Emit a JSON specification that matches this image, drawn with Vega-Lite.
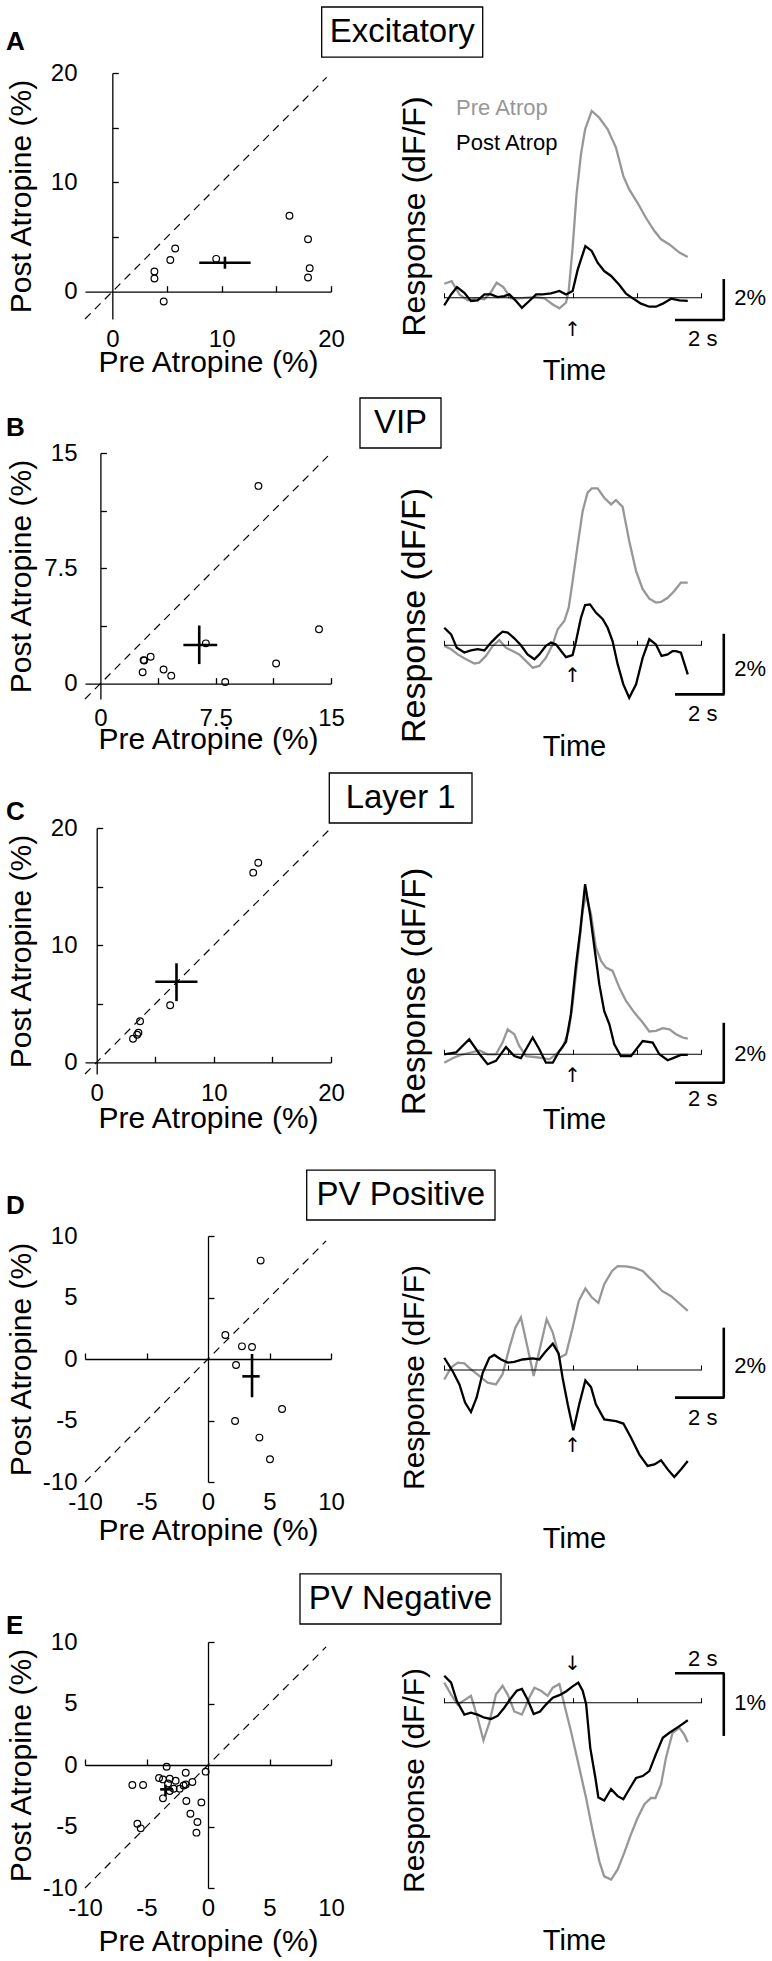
{
"$schema":"https://vega.github.io/schema/vega-lite/v6.json",
"background":"white",
"padding":{"left":5,"top":6,"right":5,"bottom":5},
"columns":2,
"align":"each",
"bounds":"flush",
"spacing":{"row":5,"column":113},
"datasets":{
"scA":[{"pre":16.2,"post":6.95},{"pre":17.9,"post":4.8},{"pre":18.05,"post":2.15},{"pre":17.9,"post":1.3},{"pre":5.75,"post":3.95},{"pre":5.3,"post":2.9},{"pre":9.5,"post":3.0},{"pre":3.85,"post":1.85},{"pre":3.85,"post":1.2},{"pre":4.7,"post":-0.9}],
"mA":[{"pre":10.3,"post":2.65,"preLo":7.95,"preHi":12.65,"postLo":2.1,"postHi":3.2}],
"scB":[{"pre":10.28,"post":12.86},{"pre":14.22,"post":3.54},{"pre":11.43,"post":1.31},{"pre":8.12,"post":0.11},{"pre":6.86,"post":2.62},{"pre":3.27,"post":1.75},{"pre":2.81,"post":1.53},{"pre":2.85,"post":1.5},{"pre":2.75,"post":0.74},{"pre":4.11,"post":0.92},{"pre":4.61,"post":0.52}],
"mB":[{"pre":6.43,"post":2.51,"preLo":5.4,"preHi":7.6,"postLo":1.27,"postHi":3.78}],
"scC":[{"pre":13.36,"post":16.19},{"pre":13.79,"post":17.03},{"pre":6.27,"post":4.87},{"pre":3.7,"post":3.5},{"pre":3.56,"post":2.52},{"pre":3.45,"post":2.35},{"pre":3.1,"post":2.01}],
"mC":[{"pre":6.81,"post":6.88,"preLo":5.0,"preHi":8.6,"postLo":5.22,"postHi":8.45}],
"scD":[{"pre":4.28,"post":8.0},{"pre":1.41,"post":1.95},{"pre":2.76,"post":1.03},{"pre":3.58,"post":0.98},{"pre":2.28,"post":-0.49},{"pre":6.02,"post":-4.07},{"pre":2.2,"post":-5.04},{"pre":4.18,"post":-6.39},{"pre":5.04,"post":-8.15}],
"mD":[{"pre":3.58,"post":-1.41,"preLo":2.79,"preHi":4.2,"postLo":-3.11,"postHi":0.41}],
"scE":[{"pre":-3.36,"post":-0.14},{"pre":-1.81,"post":-0.63},{"pre":-0.19,"post":-0.54},{"pre":-6.15,"post":-1.63},{"pre":-5.28,"post":-1.63},{"pre":-3.98,"post":-1.06},{"pre":-3.66,"post":-1.17},{"pre":-3.11,"post":-1.12},{"pre":-2.63,"post":-1.28},{"pre":-3.25,"post":-1.5},{"pre":-2.79,"post":-1.93},{"pre":-1.98,"post":-1.66},{"pre":-1.81,"post":-1.58},{"pre":-1.27,"post":-1.38},{"pre":-2.3,"post":-1.93},{"pre":-3.11,"post":-2.11},{"pre":-3.66,"post":-2.71},{"pre":-1.76,"post":-2.93},{"pre":-0.54,"post":-3.04},{"pre":-1.43,"post":-3.96},{"pre":-0.86,"post":-4.63},{"pre":-0.94,"post":-5.5},{"pre":-5.74,"post":-4.77},{"pre":-5.47,"post":-5.15}],
"mE":[{"pre":-3.46,"post":-1.98,"preLo":-3.89,"preHi":-2.85,"postLo":-2.55,"postHi":-1.6}],
"tApre":[{"t":0.01,"r":0.68},{"t":0.31,"r":0.81},{"t":0.63,"r":0.16},{"t":0.97,"r":-0.13},{"t":1.31,"r":-0.03},{"t":1.65,"r":-0.08},{"t":1.92,"r":0.28},{"t":2.15,"r":0.73},{"t":2.42,"r":0.52},{"t":2.73,"r":-0.03},{"t":3.07,"r":-0.03},{"t":3.41,"r":0.0},{"t":3.76,"r":0.03},{"t":4.1,"r":-0.03},{"t":4.44,"r":-0.33},{"t":4.71,"r":-0.52},{"t":4.98,"r":-0.24},{"t":5.09,"r":0.33},{"t":5.25,"r":2.44},{"t":5.41,"r":5.04},{"t":5.59,"r":6.99},{"t":5.76,"r":8.21},{"t":6.03,"r":9.11},{"t":6.34,"r":8.78},{"t":6.68,"r":8.21},{"t":7.02,"r":7.32},{"t":7.32,"r":5.93},{"t":7.56,"r":5.28},{"t":7.9,"r":4.63},{"t":8.24,"r":3.9},{"t":8.59,"r":3.25},{"t":8.86,"r":2.85},{"t":9.2,"r":2.6},{"t":9.61,"r":2.2},{"t":9.95,"r":1.98}],
"tApost":[{"t":0.01,"r":-0.37},{"t":0.29,"r":0.16},{"t":0.53,"r":0.52},{"t":0.83,"r":0.24},{"t":1.1,"r":-0.16},{"t":1.37,"r":-0.13},{"t":1.65,"r":0.16},{"t":1.92,"r":0.16},{"t":2.19,"r":0.03},{"t":2.46,"r":0.08},{"t":2.67,"r":0.16},{"t":2.94,"r":-0.16},{"t":3.18,"r":-0.49},{"t":3.48,"r":-0.16},{"t":3.76,"r":0.16},{"t":4.03,"r":0.16},{"t":4.37,"r":0.21},{"t":4.71,"r":0.33},{"t":4.98,"r":0.16},{"t":5.25,"r":0.33},{"t":5.46,"r":1.38},{"t":5.77,"r":2.52},{"t":6.03,"r":2.28},{"t":6.27,"r":1.71},{"t":6.54,"r":1.3},{"t":6.82,"r":1.06},{"t":7.16,"r":0.62},{"t":7.43,"r":0.2},{"t":7.77,"r":-0.08},{"t":8.04,"r":-0.29},{"t":8.38,"r":-0.44},{"t":8.65,"r":-0.44},{"t":8.93,"r":-0.29},{"t":9.27,"r":-0.05},{"t":9.61,"r":-0.13},{"t":9.95,"r":-0.16}],
"tBpre":[{"t":0.01,"r":-0.02},{"t":0.29,"r":-0.13},{"t":0.56,"r":-0.3},{"t":0.9,"r":-0.46},{"t":1.24,"r":-0.6},{"t":1.44,"r":-0.57},{"t":1.71,"r":-0.35},{"t":1.99,"r":-0.02},{"t":2.26,"r":0.17},{"t":2.53,"r":-0.08},{"t":2.8,"r":-0.19},{"t":3.07,"r":-0.3},{"t":3.35,"r":-0.52},{"t":3.62,"r":-0.74},{"t":3.89,"r":-0.68},{"t":4.16,"r":-0.41},{"t":4.44,"r":0.03},{"t":4.64,"r":0.53},{"t":4.91,"r":0.8},{"t":5.09,"r":1.24},{"t":5.25,"r":2.12},{"t":5.46,"r":3.33},{"t":5.66,"r":4.43},{"t":5.86,"r":5.04},{"t":6.03,"r":5.18},{"t":6.27,"r":5.18},{"t":6.54,"r":4.87},{"t":6.82,"r":4.65},{"t":7.02,"r":4.79},{"t":7.29,"r":4.57},{"t":7.56,"r":3.44},{"t":7.84,"r":2.45},{"t":8.11,"r":1.85},{"t":8.38,"r":1.54},{"t":8.65,"r":1.41},{"t":8.86,"r":1.43},{"t":9.13,"r":1.57},{"t":9.4,"r":1.79},{"t":9.67,"r":2.07},{"t":9.95,"r":2.07}],
"tBpost":[{"t":0.01,"r":0.58},{"t":0.29,"r":0.36},{"t":0.52,"r":-0.08},{"t":0.83,"r":-0.24},{"t":1.1,"r":-0.17},{"t":1.37,"r":-0.13},{"t":1.65,"r":-0.17},{"t":1.92,"r":0.09},{"t":2.19,"r":0.31},{"t":2.39,"r":0.45},{"t":2.6,"r":0.42},{"t":2.87,"r":0.23},{"t":3.14,"r":0.0},{"t":3.41,"r":-0.3},{"t":3.69,"r":-0.46},{"t":3.89,"r":-0.3},{"t":4.16,"r":-0.02},{"t":4.37,"r":0.09},{"t":4.57,"r":0.03},{"t":4.78,"r":-0.19},{"t":4.98,"r":-0.39},{"t":5.25,"r":-0.32},{"t":5.39,"r":0.14},{"t":5.59,"r":0.91},{"t":5.76,"r":1.33},{"t":5.96,"r":1.35},{"t":6.2,"r":1.08},{"t":6.48,"r":0.86},{"t":6.68,"r":0.58},{"t":6.88,"r":0.14},{"t":7.09,"r":-0.63},{"t":7.32,"r":-1.29},{"t":7.56,"r":-1.73},{"t":7.84,"r":-1.29},{"t":8.11,"r":-0.41},{"t":8.38,"r":0.2},{"t":8.65,"r":0.03},{"t":8.88,"r":-0.35},{"t":9.13,"r":-0.3},{"t":9.33,"r":-0.19},{"t":9.47,"r":-0.19},{"t":9.67,"r":-0.24},{"t":9.95,"r":-0.96}],
"tCpre":[{"t":0.01,"r":-0.28},{"t":0.35,"r":-0.13},{"t":0.69,"r":-0.02},{"t":1.1,"r":0.06},{"t":1.44,"r":0.13},{"t":1.78,"r":0},{"t":2.12,"r":0},{"t":2.39,"r":0.39},{"t":2.6,"r":0.83},{"t":2.87,"r":0.67},{"t":3.07,"r":0.28},{"t":3.35,"r":-0.06},{"t":3.69,"r":-0.09},{"t":4.03,"r":-0.13},{"t":4.3,"r":-0.17},{"t":4.57,"r":0},{"t":4.84,"r":0.22},{"t":5.09,"r":0.78},{"t":5.25,"r":1.67},{"t":5.46,"r":3.22},{"t":5.66,"r":4.78},{"t":5.8,"r":5.33},{"t":6.0,"r":4.67},{"t":6.2,"r":3.56},{"t":6.41,"r":3.11},{"t":6.61,"r":2.89},{"t":6.88,"r":2.78},{"t":7.16,"r":2.22},{"t":7.43,"r":1.78},{"t":7.77,"r":1.39},{"t":8.11,"r":1.06},{"t":8.38,"r":0.76},{"t":8.65,"r":0.78},{"t":8.93,"r":0.87},{"t":9.2,"r":0.83},{"t":9.47,"r":0.67},{"t":9.74,"r":0.56},{"t":9.95,"r":0.52}],
"tCpost":[{"t":0.01,"r":0},{"t":0.49,"r":0.06},{"t":1.03,"r":0.5},{"t":1.44,"r":0.02},{"t":1.78,"r":-0.33},{"t":2.12,"r":-0.22},{"t":2.53,"r":0.24},{"t":2.87,"r":-0.06},{"t":3.14,"r":-0.13},{"t":3.62,"r":0.56},{"t":3.89,"r":0.17},{"t":4.16,"r":-0.28},{"t":4.44,"r":-0.28},{"t":4.71,"r":0.11},{"t":4.98,"r":0.42},{"t":5.18,"r":1.33},{"t":5.39,"r":3.0},{"t":5.56,"r":4.11},{"t":5.76,"r":5.67},{"t":5.96,"r":4.67},{"t":6.14,"r":3.56},{"t":6.34,"r":2.33},{"t":6.54,"r":1.44},{"t":6.75,"r":1.0},{"t":6.95,"r":0.33},{"t":7.22,"r":-0.06},{"t":7.63,"r":-0.06},{"t":8.11,"r":0.44},{"t":8.52,"r":0.39},{"t":8.79,"r":0},{"t":9.13,"r":-0.2},{"t":9.4,"r":-0.11},{"t":9.67,"r":-0.02},{"t":9.95,"r":-0.02}],
"tDpre":[{"t":0.01,"r":-0.27},{"t":0.29,"r":0.07},{"t":0.56,"r":0.21},{"t":0.83,"r":0.19},{"t":1.1,"r":0.02},{"t":1.44,"r":-0.17},{"t":1.78,"r":-0.36},{"t":2.12,"r":-0.41},{"t":2.39,"r":-0.12},{"t":2.67,"r":0.64},{"t":2.91,"r":1.21},{"t":3.14,"r":1.5},{"t":3.41,"r":0.64},{"t":3.66,"r":-0.17},{"t":3.89,"r":0.54},{"t":4.19,"r":1.45},{"t":4.44,"r":1.07},{"t":4.71,"r":0.35},{"t":4.98,"r":0.45},{"t":5.25,"r":1.21},{"t":5.5,"r":1.97},{"t":5.77,"r":2.33},{"t":6.04,"r":2.07},{"t":6.3,"r":1.92},{"t":6.54,"r":2.45},{"t":6.86,"r":2.83},{"t":7.09,"r":2.97},{"t":7.43,"r":2.96},{"t":7.77,"r":2.92},{"t":8.11,"r":2.83},{"t":8.38,"r":2.64},{"t":8.65,"r":2.45},{"t":8.9,"r":2.26},{"t":9.27,"r":2.11},{"t":9.61,"r":1.9},{"t":9.95,"r":1.69}],
"tDpost":[{"t":0.01,"r":0.35},{"t":0.35,"r":-0.03},{"t":0.63,"r":-0.41},{"t":0.86,"r":-0.93},{"t":1.1,"r":-1.2},{"t":1.33,"r":-0.79},{"t":1.58,"r":-0.08},{"t":1.85,"r":0.35},{"t":2.05,"r":0.43},{"t":2.33,"r":0.3},{"t":2.6,"r":0.21},{"t":2.87,"r":0.23},{"t":3.21,"r":0.3},{"t":3.62,"r":0.33},{"t":3.89,"r":0.3},{"t":4.14,"r":0.52},{"t":4.44,"r":0.75},{"t":4.68,"r":0.47},{"t":4.84,"r":-0.22},{"t":5.05,"r":-0.98},{"t":5.28,"r":-1.72},{"t":5.52,"r":-0.98},{"t":5.77,"r":-0.3},{"t":6.0,"r":-0.49},{"t":6.2,"r":-0.98},{"t":6.54,"r":-1.41},{"t":7.02,"r":-1.46},{"t":7.32,"r":-1.53},{"t":7.63,"r":-1.93},{"t":7.97,"r":-2.41},{"t":8.31,"r":-2.74},{"t":8.59,"r":-2.7},{"t":8.86,"r":-2.58},{"t":9.13,"r":-2.84},{"t":9.4,"r":-3.06},{"t":9.67,"r":-2.84},{"t":9.95,"r":-2.6}],
"tEpre":[{"t":0.01,"r":0.32},{"t":0.29,"r":0.13},{"t":0.56,"r":-0.03},{"t":0.83,"r":0.04},{"t":1.1,"r":0.11},{"t":1.37,"r":-0.24},{"t":1.61,"r":-0.6},{"t":1.85,"r":-0.32},{"t":2.12,"r":0.13},{"t":2.39,"r":0.27},{"t":2.6,"r":0.13},{"t":2.87,"r":-0.14},{"t":3.18,"r":-0.19},{"t":3.48,"r":0.08},{"t":3.69,"r":0.24},{"t":3.96,"r":0.19},{"t":4.23,"r":0.11},{"t":4.44,"r":0.24},{"t":4.71,"r":0.3},{"t":4.91,"r":-0.03},{"t":5.18,"r":-0.45},{"t":5.46,"r":-0.93},{"t":5.8,"r":-1.52},{"t":6.07,"r":-2.05},{"t":6.34,"r":-2.53},{"t":6.54,"r":-2.77},{"t":6.82,"r":-2.82},{"t":7.09,"r":-2.66},{"t":7.36,"r":-2.39},{"t":7.63,"r":-2.1},{"t":7.9,"r":-1.84},{"t":8.18,"r":-1.62},{"t":8.45,"r":-1.52},{"t":8.63,"r":-1.52},{"t":8.86,"r":-1.3},{"t":9.06,"r":-0.88},{"t":9.33,"r":-0.48},{"t":9.61,"r":-0.4},{"t":9.81,"r":-0.51},{"t":9.95,"r":-0.63}],
"tEpost":[{"t":0.01,"r":0.43},{"t":0.29,"r":0.32},{"t":0.52,"r":0.03},{"t":0.83,"r":-0.19},{"t":1.1,"r":-0.16},{"t":1.37,"r":-0.19},{"t":1.65,"r":-0.24},{"t":1.92,"r":-0.26},{"t":2.19,"r":-0.21},{"t":2.46,"r":-0.08},{"t":2.69,"r":0.05},{"t":2.97,"r":0.19},{"t":3.18,"r":0.22},{"t":3.41,"r":0.05},{"t":3.66,"r":-0.18},{"t":3.92,"r":-0.14},{"t":4.16,"r":-0.03},{"t":4.44,"r":0.08},{"t":4.71,"r":0.12},{"t":4.98,"r":0.18},{"t":5.25,"r":0.26},{"t":5.48,"r":0.32},{"t":5.66,"r":0.19},{"t":5.8,"r":-0.02},{"t":5.97,"r":-0.72},{"t":6.18,"r":-1.2},{"t":6.3,"r":-1.51},{"t":6.54,"r":-1.56},{"t":6.82,"r":-1.38},{"t":7.09,"r":-1.49},{"t":7.32,"r":-1.54},{"t":7.56,"r":-1.38},{"t":7.84,"r":-1.2},{"t":8.11,"r":-1.17},{"t":8.38,"r":-1.09},{"t":8.65,"r":-0.82},{"t":8.93,"r":-0.56},{"t":9.2,"r":-0.48},{"t":9.47,"r":-0.41},{"t":9.7,"r":-0.35},{"t":9.95,"r":-0.28}]
},
"concat":[
 {"width":246,"height":246,
  "title":{"text":"A","anchor":"start","frame":"bounds","fontSize":26,"fontWeight":"bold","offset":-15,"baseline":"alphabetic"},
  "layer":[
   {"data":{"name":"scA"},"mark":{"type":"point","shape":"circle","filled":false,"color":"black","size":45,"strokeWidth":1.2,"opacity":1},
    "encoding":{
     "x":{"field":"pre","type":"quantitative","scale":{"domain":[-2.5,20],"nice":false,"zero":false},"axis":{"orient":"bottom","values":[0,10,20],"domain":false,"ticks":false,"tickSize":0,"labelPadding":8,"labelExpr":"'' + datum.value","title":"Pre Atropine (%)","titleX":123,"titleY":43,"titleBaseline":"middle","titleAlign":"center"}},
     "y":{"field":"post","type":"quantitative","scale":{"domain":[-2.5,20],"nice":false,"zero":false},"axis":{"orient":"left","values":[0,10,20],"domain":false,"ticks":false,"tickSize":0,"labelPadding":8,"labelExpr":"'' + datum.value","title":"Post Atropine (%)","titleX":-64,"titleY":123,"titleBaseline":"middle","titleAlign":"center"}}}},
   {"data":{"name":"mA"},"mark":{"type":"rule","color":"black","strokeWidth":2.6},
    "encoding":{
     "x":{"field":"pre","type":"quantitative","axis":{"orient":"top","offset":-218.67,"values":[5,10,15,20],"labels":false,"ticks":true,"tickSize":6,"domain":true,"title":null}},
     "y":{"field":"postLo","type":"quantitative","axis":{"orient":"right","offset":-218.67,"values":[5,10,15,20],"labels":false,"ticks":true,"tickSize":6,"domain":true,"title":null}},
     "y2":{"field":"postHi"}}},
   {"data":{"name":"mA"},"mark":{"type":"rule","color":"black","strokeWidth":2.6},
    "encoding":{"x":{"field":"preLo","type":"quantitative","axis":null},"x2":{"field":"preHi"},"y":{"field":"post","type":"quantitative","axis":null}}},
   {"data":{"values":[{}]},"mark":{"type":"rule","color":"black","strokeWidth":1.2,"strokeDash":[8,6]},
    "encoding":{"x":{"datum":-2.5,"type":"quantitative","axis":null},"x2":{"datum":19.6},"y":{"datum":-2.5,"type":"quantitative","axis":null},"y2":{"datum":19.6}}}
  ],
  "resolve":{"axis":{"x":"independent","y":"independent"}}},
 {"width":273,"height":375,
  "layer":[
   {"data":{"name":"tApre"},"mark":{"type":"line","color":"#979797","strokeWidth":2.3},
    "encoding":{
     "x":{"field":"t","type":"quantitative","scale":{"domain":[0,11.143],"nice":false,"zero":false},"axis":{"orient":"top","offset":-224.7,"values":[0,2.625,5.25,7.875,10.5],"labels":false,"domain":false,"ticks":true,"tickSize":5,"tickWidth":1,"title":"Time","titleFontSize":29,"titleX":130,"titleY":73,"titleBaseline":"middle","titleAlign":"center"}},
     "y":{"field":"r","type":"quantitative","scale":{"domain":[-7.332,10.961],"nice":false,"zero":false},"axis":{"orient":"left","labels":false,"domain":false,"ticks":false,"title":"Response (dF/F)","titleFontSize":32,"titleX":-30,"titleY":143,"titleBaseline":"middle","titleAlign":"center"}}}},
   {"data":{"values":[{}]},"mark":{"type":"rule","color":"black","strokeWidth":1.1},"encoding":{"x":{"datum":0,"type":"quantitative","axis":null},"x2":{"datum":10.5},"y":{"datum":0,"type":"quantitative","axis":null}}},
   {"data":{"name":"tApost"},"mark":{"type":"line","color":"black","strokeWidth":2.3},"encoding":{"x":{"field":"t","type":"quantitative","axis":null},"y":{"field":"r","type":"quantitative","axis":null}}},
   {"data":{"values":[{}]},"mark":{"type":"rule","color":"black","strokeWidth":2.6},"encoding":{"x":{"datum":11.42,"type":"quantitative","axis":null},"y":{"datum":-1.09,"type":"quantitative","axis":null},"y2":{"datum":0.91}}},
   {"data":{"values":[{}]},"mark":{"type":"rule","color":"black","strokeWidth":2.6},"encoding":{"x":{"datum":9.43,"type":"quantitative","axis":null},"x2":{"datum":11.45},"y":{"datum":-1.09,"type":"quantitative","axis":null}}},
   {"data":{"values":[{}]},"mark":{"type":"text","align":"left","baseline":"middle","fontSize":22},"encoding":{"x":{"datum":11.85,"type":"quantitative","axis":null},"y":{"datum":-0.01,"type":"quantitative","axis":null},"text":{"value":"2%"}}},
   {"data":{"values":[{}]},"mark":{"type":"text","align":"center","baseline":"middle","fontSize":22},"encoding":{"x":{"datum":10.56,"type":"quantitative","axis":null},"y":{"datum":-2.01,"type":"quantitative","axis":null},"text":{"value":"2 s"}}},
   {"data":{"values":[{}]},"mark":{"type":"text","align":"center","baseline":"middle","fontSize":20,"font":"DejaVu Sans"},"encoding":{"x":{"datum":5.25,"type":"quantitative","axis":null},"y":{"datum":-1.6,"type":"quantitative","axis":null},"text":{"value":"↑"}}},
   {"data":{"values":[{}]},"mark":{"type":"text","align":"left","baseline":"middle","fontSize":22,"color":"#979797"},"encoding":{"x":{"datum":0.49,"type":"quantitative","axis":null},"y":{"datum":9.25,"type":"quantitative","axis":null},"text":{"value":"Pre Atrop"}}},
   {"data":{"values":[{}]},"mark":{"type":"text","align":"left","baseline":"middle","fontSize":22},"encoding":{"x":{"datum":0.49,"type":"quantitative","axis":null},"y":{"datum":7.55,"type":"quantitative","axis":null},"text":{"value":"Post Atrop"}}},
   {"data":{"values":[{}]},"mark":{"type":"rect","fill":"white","stroke":"black","strokeWidth":1.3},"encoding":{"x":{"datum":-4.992,"type":"quantitative","axis":null},"x2":{"datum":1.58},"y":{"datum":14.18,"type":"quantitative","axis":null},"y2":{"datum":11.74}}},
   {"data":{"values":[{"label":"Excitatory"}]},"mark":{"type":"text","fontSize":33,"align":"center","baseline":"middle"},"encoding":{"x":{"datum":-1.706,"type":"quantitative","axis":null},"y":{"datum":12.96,"type":"quantitative","axis":null},"text":{"field":"label"}}}
  ],
  "resolve":{"axis":{"x":"independent","y":"independent"}}},

 {"width":246,"height":246,
  "title":{"text":"B","anchor":"start","frame":"bounds","fontSize":26,"fontWeight":"bold","offset":-21,"baseline":"alphabetic"},
  "layer":[
   {"data":{"name":"scB"},"mark":{"type":"point","shape":"circle","filled":false,"color":"black","size":45,"strokeWidth":1.2,"opacity":1},
    "encoding":{
     "x":{"field":"pre","type":"quantitative","scale":{"domain":[-1,15],"nice":false,"zero":false},"axis":{"orient":"bottom","values":[0,7.5,15],"domain":false,"ticks":false,"tickSize":0,"labelPadding":7,"labelExpr":"'' + datum.value","title":"Pre Atropine (%)","titleX":123,"titleY":40,"titleBaseline":"middle","titleAlign":"center"}},
     "y":{"field":"post","type":"quantitative","scale":{"domain":[-1,15],"nice":false,"zero":false},"axis":{"orient":"left","values":[0,7.5,15],"domain":false,"ticks":false,"tickSize":0,"labelPadding":8,"labelExpr":"'' + datum.value","title":"Post Atropine (%)","titleX":-64,"titleY":123,"titleBaseline":"middle","titleAlign":"center"}}}},
   {"data":{"name":"mB"},"mark":{"type":"rule","color":"black","strokeWidth":2.6},
    "encoding":{
     "x":{"field":"pre","type":"quantitative","axis":{"orient":"top","offset":-230.6,"values":[3.75,7.5,11.25,15],"labels":false,"ticks":true,"tickSize":6,"domain":true,"title":null}},
     "y":{"field":"postLo","type":"quantitative","axis":{"orient":"right","offset":-230.6,"values":[3.75,7.5,11.25,15],"labels":false,"ticks":true,"tickSize":6,"domain":true,"title":null}},
     "y2":{"field":"postHi"}}},
   {"data":{"name":"mB"},"mark":{"type":"rule","color":"black","strokeWidth":2.6},
    "encoding":{"x":{"field":"preLo","type":"quantitative","axis":null},"x2":{"field":"preHi"},"y":{"field":"post","type":"quantitative","axis":null}}},
   {"data":{"values":[{}]},"mark":{"type":"rule","color":"black","strokeWidth":1.2,"strokeDash":[8,6]},
    "encoding":{"x":{"datum":-1,"type":"quantitative","axis":null},"x2":{"datum":14.8},"y":{"datum":-1,"type":"quantitative","axis":null},"y2":{"datum":14.8}}}
  ],
  "resolve":{"axis":{"x":"independent","y":"independent"}}},
 {"width":273,"height":370,
  "layer":[
   {"data":{"name":"tBpre"},"mark":{"type":"line","color":"#979797","strokeWidth":2.3},
    "encoding":{
     "x":{"field":"t","type":"quantitative","scale":{"domain":[0,11.143],"nice":false,"zero":false},"axis":{"orient":"top","offset":-192.3,"values":[0,2.625,5.25,7.875,10.5],"labels":false,"domain":false,"ticks":true,"tickSize":5,"tickWidth":1,"title":"Time","titleFontSize":29,"titleX":130,"titleY":101,"titleBaseline":"middle","titleAlign":"center"}},
     "y":{"field":"r","type":"quantitative","scale":{"domain":[-5.865,6.347],"nice":false,"zero":false},"axis":{"orient":"left","labels":false,"domain":false,"ticks":false,"title":"Response (dF/F)","titleFontSize":34,"titleX":-30,"titleY":162,"titleBaseline":"middle","titleAlign":"center"}}}},
   {"data":{"values":[{}]},"mark":{"type":"rule","color":"black","strokeWidth":1.1},"encoding":{"x":{"datum":0,"type":"quantitative","axis":null},"x2":{"datum":10.5},"y":{"datum":0,"type":"quantitative","axis":null}}},
   {"data":{"name":"tBpost"},"mark":{"type":"line","color":"black","strokeWidth":2.3},"encoding":{"x":{"field":"t","type":"quantitative","axis":null},"y":{"field":"r","type":"quantitative","axis":null}}},
   {"data":{"values":[{}]},"mark":{"type":"rule","color":"black","strokeWidth":2.6},"encoding":{"x":{"datum":11.42,"type":"quantitative","axis":null},"y":{"datum":-1.62,"type":"quantitative","axis":null},"y2":{"datum":0.38}}},
   {"data":{"values":[{}]},"mark":{"type":"rule","color":"black","strokeWidth":2.6},"encoding":{"x":{"datum":9.43,"type":"quantitative","axis":null},"x2":{"datum":11.45},"y":{"datum":-1.62,"type":"quantitative","axis":null}}},
   {"data":{"values":[{}]},"mark":{"type":"text","align":"left","baseline":"middle","fontSize":22},"encoding":{"x":{"datum":11.85,"type":"quantitative","axis":null},"y":{"datum":-0.78,"type":"quantitative","axis":null},"text":{"value":"2%"}}},
   {"data":{"values":[{}]},"mark":{"type":"text","align":"center","baseline":"middle","fontSize":22},"encoding":{"x":{"datum":10.56,"type":"quantitative","axis":null},"y":{"datum":-2.27,"type":"quantitative","axis":null},"text":{"value":"2 s"}}},
   {"data":{"values":[{}]},"mark":{"type":"text","align":"center","baseline":"middle","fontSize":20,"font":"DejaVu Sans"},"encoding":{"x":{"datum":5.25,"type":"quantitative","axis":null},"y":{"datum":-1.0,"type":"quantitative","axis":null},"text":{"value":"↑"}}},
   {"data":{"values":[{}]},"mark":{"type":"rect","fill":"white","stroke":"black","strokeWidth":1.3},"encoding":{"x":{"datum":-3.429,"type":"quantitative","axis":null},"x2":{"datum":-0.122},"y":{"datum":8.162,"type":"quantitative","axis":null},"y2":{"datum":6.512}}},
   {"data":{"values":[{"label":"VIP"}]},"mark":{"type":"text","fontSize":33,"align":"center","baseline":"middle"},"encoding":{"x":{"datum":-1.776,"type":"quantitative","axis":null},"y":{"datum":7.337,"type":"quantitative","axis":null},"text":{"field":"label"}}}
  ],
  "resolve":{"axis":{"x":"independent","y":"independent"}}},

 {"width":246,"height":246,
  "title":{"text":"C","anchor":"start","frame":"bounds","fontSize":26,"fontWeight":"bold","offset":-30,"baseline":"alphabetic"},
  "layer":[
   {"data":{"name":"scC"},"mark":{"type":"point","shape":"circle","filled":false,"color":"black","size":45,"strokeWidth":1.2,"opacity":1},
    "encoding":{
     "x":{"field":"pre","type":"quantitative","scale":{"domain":[-1,20],"nice":false,"zero":false},"axis":{"orient":"bottom","values":[0,10,20],"domain":false,"ticks":false,"tickSize":0,"labelPadding":7,"labelExpr":"'' + datum.value","title":"Pre Atropine (%)","titleX":123,"titleY":44,"titleBaseline":"middle","titleAlign":"center"}},
     "y":{"field":"post","type":"quantitative","scale":{"domain":[-1,20],"nice":false,"zero":false},"axis":{"orient":"left","values":[0,10,20],"domain":false,"ticks":false,"tickSize":0,"labelPadding":8,"labelExpr":"'' + datum.value","title":"Post Atropine (%)","titleX":-64,"titleY":123,"titleBaseline":"middle","titleAlign":"center"}}}},
   {"data":{"name":"mC"},"mark":{"type":"rule","color":"black","strokeWidth":2.6},
    "encoding":{
     "x":{"field":"pre","type":"quantitative","axis":{"orient":"top","offset":-234.3,"values":[5,10,15,20],"labels":false,"ticks":true,"tickSize":6,"domain":true,"title":null}},
     "y":{"field":"postLo","type":"quantitative","axis":{"orient":"right","offset":-234.3,"values":[5,10,15,20],"labels":false,"ticks":true,"tickSize":6,"domain":true,"title":null}},
     "y2":{"field":"postHi"}}},
   {"data":{"name":"mC"},"mark":{"type":"rule","color":"black","strokeWidth":2.6},
    "encoding":{"x":{"field":"preLo","type":"quantitative","axis":null},"x2":{"field":"preHi"},"y":{"field":"post","type":"quantitative","axis":null}}},
   {"data":{"values":[{}]},"mark":{"type":"rule","color":"black","strokeWidth":1.2,"strokeDash":[8,6]},
    "encoding":{"x":{"datum":-1,"type":"quantitative","axis":null},"x2":{"datum":19.85},"y":{"datum":-1,"type":"quantitative","axis":null},"y2":{"datum":19.85}}}
  ],
  "resolve":{"axis":{"x":"independent","y":"independent"}}},
 {"width":273,"height":403,
  "layer":[
   {"data":{"name":"tCpre"},"mark":{"type":"line","color":"#979797","strokeWidth":2.3},
    "encoding":{
     "x":{"field":"t","type":"quantitative","scale":{"domain":[0,11.143],"nice":false,"zero":false},"axis":{"orient":"top","offset":-226.3,"values":[0,2.625,5.25,7.875,10.5],"labels":false,"domain":false,"ticks":true,"tickSize":5,"tickWidth":1,"title":"Time","titleFontSize":29,"titleX":130,"titleY":65,"titleBaseline":"middle","titleAlign":"center"}},
     "y":{"field":"r","type":"quantitative","scale":{"domain":[-5.89,7.543],"nice":false,"zero":false},"axis":{"orient":"left","labels":false,"domain":false,"ticks":false,"title":"Response (dF/F)","titleFontSize":33,"titleX":-30,"titleY":163,"titleBaseline":"middle","titleAlign":"center"}}}},
   {"data":{"values":[{}]},"mark":{"type":"rule","color":"black","strokeWidth":1.1},"encoding":{"x":{"datum":0,"type":"quantitative","axis":null},"x2":{"datum":10.5},"y":{"datum":0,"type":"quantitative","axis":null}}},
   {"data":{"name":"tCpost"},"mark":{"type":"line","color":"black","strokeWidth":2.3},"encoding":{"x":{"field":"t","type":"quantitative","axis":null},"y":{"field":"r","type":"quantitative","axis":null}}},
   {"data":{"values":[{}]},"mark":{"type":"rule","color":"black","strokeWidth":2.6},"encoding":{"x":{"datum":11.42,"type":"quantitative","axis":null},"y":{"datum":-0.95,"type":"quantitative","axis":null},"y2":{"datum":1.05}}},
   {"data":{"values":[{}]},"mark":{"type":"rule","color":"black","strokeWidth":2.6},"encoding":{"x":{"datum":9.43,"type":"quantitative","axis":null},"x2":{"datum":11.45},"y":{"datum":-0.95,"type":"quantitative","axis":null}}},
   {"data":{"values":[{}]},"mark":{"type":"text","align":"left","baseline":"middle","fontSize":22},"encoding":{"x":{"datum":11.85,"type":"quantitative","axis":null},"y":{"datum":0.0,"type":"quantitative","axis":null},"text":{"value":"2%"}}},
   {"data":{"values":[{}]},"mark":{"type":"text","align":"center","baseline":"middle","fontSize":22},"encoding":{"x":{"datum":10.56,"type":"quantitative","axis":null},"y":{"datum":-1.49,"type":"quantitative","axis":null},"text":{"value":"2 s"}}},
   {"data":{"values":[{}]},"mark":{"type":"text","align":"center","baseline":"middle","fontSize":20,"font":"DejaVu Sans"},"encoding":{"x":{"datum":5.25,"type":"quantitative","axis":null},"y":{"datum":-0.72,"type":"quantitative","axis":null},"text":{"value":"↑"}}},
   {"data":{"values":[{}]},"mark":{"type":"rect","fill":"white","stroke":"black","strokeWidth":1.3},"encoding":{"x":{"datum":-4.682,"type":"quantitative","axis":null},"x2":{"datum":1.143},"y":{"datum":9.377,"type":"quantitative","axis":null},"y2":{"datum":7.71}}},
   {"data":{"values":[{"label":"Layer 1"}]},"mark":{"type":"text","fontSize":33,"align":"center","baseline":"middle"},"encoding":{"x":{"datum":-1.769,"type":"quantitative","axis":null},"y":{"datum":8.543,"type":"quantitative","axis":null},"text":{"field":"label"}}}
  ],
  "resolve":{"axis":{"x":"independent","y":"independent"}}},

 {"width":246,"height":246,
  "title":{"text":"D","anchor":"start","frame":"bounds","fontSize":26,"fontWeight":"bold","offset":-16,"baseline":"alphabetic"},
  "layer":[
   {"data":{"name":"scD"},"mark":{"type":"point","shape":"circle","filled":false,"color":"black","size":45,"strokeWidth":1.2,"opacity":1},
    "encoding":{
     "x":{"field":"pre","type":"quantitative","scale":{"domain":[-10,10],"nice":false,"zero":false},"axis":{"orient":"bottom","values":[-10,-5,0,5,10],"domain":false,"ticks":false,"tickSize":0,"labelPadding":8,"labelExpr":"'' + datum.value","title":"Pre Atropine (%)","titleX":123,"titleY":48,"titleBaseline":"middle","titleAlign":"center"}},
     "y":{"field":"post","type":"quantitative","scale":{"domain":[-10,10],"nice":false,"zero":false},"axis":{"orient":"left","values":[-10,-5,0,5,10],"domain":false,"ticks":false,"tickSize":0,"labelPadding":8,"labelExpr":"'' + datum.value","title":"Post Atropine (%)","titleX":-64,"titleY":123,"titleBaseline":"middle","titleAlign":"center"}}}},
   {"data":{"name":"mD"},"mark":{"type":"rule","color":"black","strokeWidth":2.6},
    "encoding":{
     "x":{"field":"pre","type":"quantitative","axis":{"orient":"top","offset":-123,"values":[-10,-5,5,10],"labels":false,"ticks":true,"tickSize":6,"domain":true,"title":null}},
     "y":{"field":"postLo","type":"quantitative","axis":{"orient":"right","offset":-123,"values":[-10,-5,5,10],"labels":false,"ticks":true,"tickSize":6,"domain":true,"title":null}},
     "y2":{"field":"postHi"}}},
   {"data":{"name":"mD"},"mark":{"type":"rule","color":"black","strokeWidth":2.6},
    "encoding":{"x":{"field":"preLo","type":"quantitative","axis":null},"x2":{"field":"preHi"},"y":{"field":"post","type":"quantitative","axis":null}}},
   {"data":{"values":[{}]},"mark":{"type":"rule","color":"black","strokeWidth":1.2,"strokeDash":[8,6]},
    "encoding":{"x":{"datum":-10,"type":"quantitative","axis":null},"x2":{"datum":9.6},"y":{"datum":-10,"type":"quantitative","axis":null},"y2":{"datum":9.6}}}
  ],
  "resolve":{"axis":{"x":"independent","y":"independent"}}},
 {"width":273,"height":401,
  "layer":[
   {"data":{"name":"tDpre"},"mark":{"type":"line","color":"#979797","strokeWidth":2.3},
    "encoding":{
     "x":{"field":"t","type":"quantitative","scale":{"domain":[0,11.143],"nice":false,"zero":false},"axis":{"orient":"top","offset":-134,"values":[0,2.625,5.25,7.875,10.5],"labels":false,"domain":false,"ticks":true,"tickSize":5,"tickWidth":1,"title":"Time","titleFontSize":29,"titleX":130,"titleY":168,"titleBaseline":"middle","titleAlign":"center"}},
     "y":{"field":"r","type":"quantitative","scale":{"domain":[-7.629,3.829],"nice":false,"zero":false},"axis":{"orient":"left","labels":false,"domain":false,"ticks":false,"title":"Response (dF/F)","titleFontSize":30,"titleX":-30,"titleY":141,"titleBaseline":"middle","titleAlign":"center"}}}},
   {"data":{"values":[{}]},"mark":{"type":"rule","color":"black","strokeWidth":1.1},"encoding":{"x":{"datum":0,"type":"quantitative","axis":null},"x2":{"datum":10.5},"y":{"datum":0,"type":"quantitative","axis":null}}},
   {"data":{"name":"tDpost"},"mark":{"type":"line","color":"black","strokeWidth":2.3},"encoding":{"x":{"field":"t","type":"quantitative","axis":null},"y":{"field":"r","type":"quantitative","axis":null}}},
   {"data":{"values":[{}]},"mark":{"type":"rule","color":"black","strokeWidth":2.6},"encoding":{"x":{"datum":11.42,"type":"quantitative","axis":null},"y":{"datum":-0.79,"type":"quantitative","axis":null},"y2":{"datum":1.21}}},
   {"data":{"values":[{}]},"mark":{"type":"rule","color":"black","strokeWidth":2.6},"encoding":{"x":{"datum":9.43,"type":"quantitative","axis":null},"x2":{"datum":11.45},"y":{"datum":-0.79,"type":"quantitative","axis":null}}},
   {"data":{"values":[{}]},"mark":{"type":"text","align":"left","baseline":"middle","fontSize":22},"encoding":{"x":{"datum":11.85,"type":"quantitative","axis":null},"y":{"datum":0.11,"type":"quantitative","axis":null},"text":{"value":"2%"}}},
   {"data":{"values":[{}]},"mark":{"type":"text","align":"center","baseline":"middle","fontSize":22},"encoding":{"x":{"datum":10.56,"type":"quantitative","axis":null},"y":{"datum":-1.36,"type":"quantitative","axis":null},"text":{"value":"2 s"}}},
   {"data":{"values":[{}]},"mark":{"type":"text","align":"center","baseline":"middle","fontSize":20,"font":"DejaVu Sans"},"encoding":{"x":{"datum":5.25,"type":"quantitative","axis":null},"y":{"datum":-2.17,"type":"quantitative","axis":null},"text":{"value":"↑"}}},
   {"data":{"values":[{}]},"mark":{"type":"rect","fill":"white","stroke":"black","strokeWidth":1.3},"encoding":{"x":{"datum":-5.604,"type":"quantitative","axis":null},"x2":{"datum":2.082},"y":{"datum":5.714,"type":"quantitative","axis":null},"y2":{"datum":4.286}}},
   {"data":{"values":[{"label":"PV Positive"}]},"mark":{"type":"text","fontSize":33,"align":"center","baseline":"middle"},"encoding":{"x":{"datum":-1.761,"type":"quantitative","axis":null},"y":{"datum":5.0,"type":"quantitative","axis":null},"text":{"field":"label"}}}
  ],
  "resolve":{"axis":{"x":"independent","y":"independent"}}},

 {"width":246,"height":246,
  "title":{"text":"E","anchor":"start","frame":"bounds","fontSize":26,"fontWeight":"bold","offset":-30,"baseline":"alphabetic"},
  "layer":[
   {"data":{"name":"scE"},"mark":{"type":"point","shape":"circle","filled":false,"color":"black","size":45,"strokeWidth":1.2,"opacity":1},
    "encoding":{
     "x":{"field":"pre","type":"quantitative","scale":{"domain":[-10,10],"nice":false,"zero":false},"axis":{"orient":"bottom","values":[-10,-5,0,5,10],"domain":false,"ticks":false,"tickSize":0,"labelPadding":8,"labelExpr":"'' + datum.value","title":"Pre Atropine (%)","titleX":123,"titleY":53,"titleBaseline":"middle","titleAlign":"center"}},
     "y":{"field":"post","type":"quantitative","scale":{"domain":[-10,10],"nice":false,"zero":false},"axis":{"orient":"left","values":[-10,-5,0,5,10],"domain":false,"ticks":false,"tickSize":0,"labelPadding":8,"labelExpr":"'' + datum.value","title":"Post Atropine (%)","titleX":-64,"titleY":123,"titleBaseline":"middle","titleAlign":"center"}}}},
   {"data":{"name":"mE"},"mark":{"type":"rule","color":"black","strokeWidth":2.6},
    "encoding":{
     "x":{"field":"pre","type":"quantitative","axis":{"orient":"top","offset":-123,"values":[-10,-5,5,10],"labels":false,"ticks":true,"tickSize":6,"domain":true,"title":null}},
     "y":{"field":"postLo","type":"quantitative","axis":{"orient":"right","offset":-123,"values":[-10,-5,5,10],"labels":false,"ticks":true,"tickSize":6,"domain":true,"title":null}},
     "y2":{"field":"postHi"}}},
   {"data":{"name":"mE"},"mark":{"type":"rule","color":"black","strokeWidth":2.6},
    "encoding":{"x":{"field":"preLo","type":"quantitative","axis":null},"x2":{"field":"preHi"},"y":{"field":"post","type":"quantitative","axis":null}}},
   {"data":{"values":[{}]},"mark":{"type":"rule","color":"black","strokeWidth":1.2,"strokeDash":[8,6]},
    "encoding":{"x":{"datum":-10,"type":"quantitative","axis":null},"x2":{"datum":9.6},"y":{"datum":-10,"type":"quantitative","axis":null},"y2":{"datum":9.6}}}
  ],
  "resolve":{"axis":{"x":"independent","y":"independent"}}},
 {"width":273,"height":246,
  "layer":[
   {"data":{"name":"tEpre"},"mark":{"type":"line","color":"#979797","strokeWidth":2.3},
    "encoding":{
     "x":{"field":"t","type":"quantitative","scale":{"domain":[0,11.143],"nice":false,"zero":false},"axis":{"orient":"top","offset":-60.7,"values":[0,2.625,5.25,7.875,10.5],"labels":false,"domain":false,"ticks":true,"tickSize":5,"tickWidth":1,"title":"Time","titleFontSize":29,"titleX":130,"titleY":238,"titleBaseline":"middle","titleAlign":"center"}},
     "y":{"field":"r","type":"quantitative","scale":{"domain":[-2.955,0.968],"nice":false,"zero":false},"axis":{"orient":"left","labels":false,"domain":false,"ticks":false,"title":"Response (dF/F)","titleFontSize":30,"titleX":-30,"titleY":138,"titleBaseline":"middle","titleAlign":"center"}}}},
   {"data":{"values":[{}]},"mark":{"type":"rule","color":"black","strokeWidth":1.1},"encoding":{"x":{"datum":0,"type":"quantitative","axis":null},"x2":{"datum":10.5},"y":{"datum":0,"type":"quantitative","axis":null}}},
   {"data":{"name":"tEpost"},"mark":{"type":"line","color":"black","strokeWidth":2.3},"encoding":{"x":{"field":"t","type":"quantitative","axis":null},"y":{"field":"r","type":"quantitative","axis":null}}},
   {"data":{"values":[{}]},"mark":{"type":"rule","color":"black","strokeWidth":2.6},"encoding":{"x":{"datum":11.42,"type":"quantitative","axis":null},"y":{"datum":-0.53,"type":"quantitative","axis":null},"y2":{"datum":0.47}}},
   {"data":{"values":[{}]},"mark":{"type":"rule","color":"black","strokeWidth":2.6},"encoding":{"x":{"datum":9.43,"type":"quantitative","axis":null},"x2":{"datum":11.45},"y":{"datum":0.47,"type":"quantitative","axis":null}}},
   {"data":{"values":[{}]},"mark":{"type":"text","align":"left","baseline":"middle","fontSize":22},"encoding":{"x":{"datum":11.85,"type":"quantitative","axis":null},"y":{"datum":0.0,"type":"quantitative","axis":null},"text":{"value":"1%"}}},
   {"data":{"values":[{}]},"mark":{"type":"text","align":"center","baseline":"middle","fontSize":22},"encoding":{"x":{"datum":10.56,"type":"quantitative","axis":null},"y":{"datum":0.69,"type":"quantitative","axis":null},"text":{"value":"2 s"}}},
   {"data":{"values":[{}]},"mark":{"type":"text","align":"center","baseline":"middle","fontSize":20,"font":"DejaVu Sans"},"encoding":{"x":{"datum":5.25,"type":"quantitative","axis":null},"y":{"datum":0.62,"type":"quantitative","axis":null},"text":{"value":"↓"}}},
   {"data":{"values":[{}]},"mark":{"type":"rect","fill":"white","stroke":"black","strokeWidth":1.3},"encoding":{"x":{"datum":-5.878,"type":"quantitative","axis":null},"x2":{"datum":2.327},"y":{"datum":2.053,"type":"quantitative","axis":null},"y2":{"datum":1.255}}},
   {"data":{"values":[{"label":"PV Negative"}]},"mark":{"type":"text","fontSize":33,"align":"center","baseline":"middle"},"encoding":{"x":{"datum":-1.776,"type":"quantitative","axis":null},"y":{"datum":1.654,"type":"quantitative","axis":null},"text":{"field":"label"}}}
  ],
  "resolve":{"axis":{"x":"independent","y":"independent"}}}
],
"config":{
 "font":"Liberation Sans",
 "view":{"stroke":null},
 "axis":{"grid":false,"domainColor":"black","tickColor":"black","labelColor":"black","titleColor":"black","titleFontWeight":"normal","labelFlush":false,"labelOverlap":false,"labelBound":false,"domainWidth":1.3,"tickWidth":1.3,"labelFontSize":24,"titleFontSize":30,"labelFont":"Liberation Sans","titleFont":"Liberation Sans"},
 "title":{"color":"black","font":"Liberation Sans"},
 "text":{"font":"Liberation Sans","color":"black"}
}
}
